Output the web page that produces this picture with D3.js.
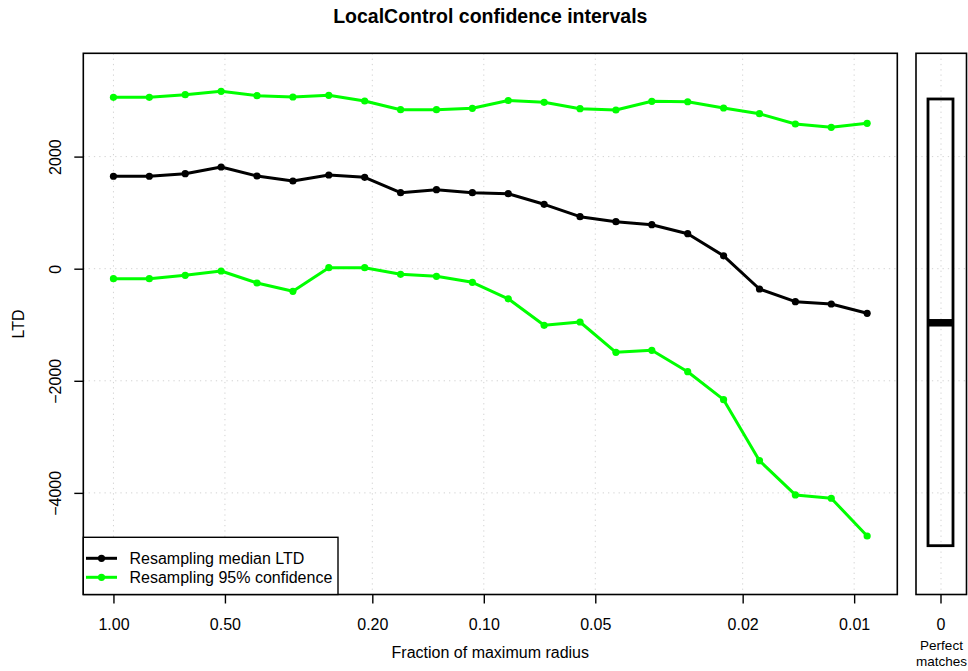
<!DOCTYPE html>
<html>
<head>
<meta charset="utf-8">
<script src="https://cdn.jsdelivr.net/npm/d3@7/dist/d3.min.js"></script>
<style>
  html, body { margin: 0; padding: 0; background: #fff; }
  svg { display: block; }
  text { font-family: "Liberation Sans", Arial, Helvetica, sans-serif; fill: #000; }
</style>
</head>
<body>
<svg id="chart" width="968" height="671"></svg>
<script>
// ---- Data ----
const stepIndex = d3.range(22);                       // radius step i, fraction = 0.8^i
const fractions = stepIndex.map(i => Math.pow(0.8, i));
const medianLTD = [1649, 1649, 1695, 1814, 1654, 1565, 1672, 1631, 1356, 1409, 1356,
                   1338, 1149, 928, 839, 785, 624, 230, -362, -589, -630, -796];
const upperCI   = [3058, 3058, 3104, 3165, 3087, 3063, 3094, 2992, 2837, 2837, 2862,
                   3001, 2969, 2855, 2831, 2987, 2979, 2867, 2765, 2582, 2523, 2594];
const lowerCI   = [-178, -178, -118, -41, -255, -403, 18, 18, -100, -136, -243,
                   -537, -1010, -951, -1492, -1456, -1838, -2337, -3426, -4037, -4096, -4769];
const xTicks = [1.00, 0.50, 0.20, 0.10, 0.05, 0.02, 0.01];
const xTickLabels = ["1.00", "0.50", "0.20", "0.10", "0.05", "0.02", "0.01"];
const yTicks = [-4000, -2000, 0, 2000];
const perfectBox = { lower: -4942, median: -965, upper: 3028 };
const legendLabels = ["Resampling median LTD", "Resampling 95% confidence"];
const seriesColors = ["#000000", "#00FF00"];

// ---- Layout ----
const svg = d3.select("#chart");
const plot = { left: 83.3, right: 897.3, top: 53.3, bottom: 594.5 };
const side = { left: 916, right: 966.5, center: 941 };
const fontBase = 16;

const pad = 0.04 * Math.log10(1 / fractions[fractions.length - 1]);
const x = d3.scaleLog()
  .domain([Math.pow(10, pad), fractions[fractions.length - 1] / Math.pow(10, pad)])
  .range([plot.left, plot.right]);
const y = d3.scaleLinear()
  .domain([-5813, 3843])
  .range([plot.bottom, plot.top]);

const gridStyle = sel => sel.attr("stroke", "#D3D3D3").attr("stroke-width", 1)
  .attr("stroke-dasharray", "1.3,4").attr("fill", "none");

// ---- Grid (main) ----
const grid = svg.append("g");
grid.selectAll("line.vx").data(xTicks).join("line")
  .attr("x1", d => x(d)).attr("x2", d => x(d))
  .attr("y1", plot.top).attr("y2", plot.bottom).call(gridStyle);
grid.selectAll("line.hy").data(yTicks).join("line")
  .attr("x1", plot.left).attr("x2", plot.right)
  .attr("y1", d => y(d)).attr("y2", d => y(d)).call(gridStyle);

// ---- Grid (side) ----
grid.append("line").attr("x1", side.center).attr("x2", side.center)
  .attr("y1", plot.top).attr("y2", plot.bottom).call(gridStyle);
grid.selectAll("line.sy").data(yTicks).join("line")
  .attr("x1", side.left).attr("x2", side.right)
  .attr("y1", d => y(d)).attr("y2", d => y(d)).call(gridStyle);

// ---- Series ----
const line = d3.line().x(d => x(d[0])).y(d => y(d[1]));
const series = [
  { values: upperCI, color: seriesColors[1] },
  { values: lowerCI, color: seriesColors[1] },
  { values: medianLTD, color: seriesColors[0] }
];
series.forEach(s => {
  const pts = fractions.map((f, i) => [f, s.values[i]]);
  svg.append("path").datum(pts).attr("d", line)
    .attr("fill", "none").attr("stroke", s.color).attr("stroke-width", 3)
    .attr("stroke-linejoin", "round");
  svg.append("g").selectAll("circle").data(pts).join("circle")
    .attr("cx", d => x(d[0])).attr("cy", d => y(d[1])).attr("r", 3.6)
    .attr("fill", s.color);
});

// ---- Frames ----
svg.append("rect").attr("x", plot.left).attr("y", plot.top)
  .attr("width", plot.right - plot.left).attr("height", plot.bottom - plot.top)
  .attr("fill", "none").attr("stroke", "#000").attr("stroke-width", 1.6);
svg.append("rect").attr("x", side.left).attr("y", plot.top)
  .attr("width", side.right - side.left).attr("height", plot.bottom - plot.top)
  .attr("fill", "none").attr("stroke", "#000").attr("stroke-width", 1.6);

// ---- Axes ----
const xAxis = d3.axisBottom(x).tickValues(xTicks)
  .tickFormat((d, i) => xTickLabels[i]).tickSize(9).tickPadding(0);
const gx = svg.append("g").attr("transform", `translate(0,${plot.bottom})`).call(xAxis);
gx.select(".domain").remove();
gx.selectAll(".tick line").attr("stroke", "#000").attr("stroke-width", 1.4);
gx.selectAll(".tick text").attr("font-size", fontBase).attr("dy", null)
  .attr("y", 35.5).attr("fill", "#000").attr("font-family", "Liberation Sans, Arial, sans-serif");

const yAxis = d3.axisLeft(y).tickValues(yTicks)
  .tickFormat(d => d < 0 ? "\u2212" + Math.abs(d) : String(d)).tickSize(9).tickPadding(0);
const gy = svg.append("g").attr("transform", `translate(${plot.left},0)`).call(yAxis);
gy.select(".domain").remove();
gy.selectAll(".tick line").attr("stroke", "#000").attr("stroke-width", 1.4);
gy.selectAll(".tick text").attr("font-size", fontBase)
  .attr("x", null).attr("dy", null)
  .attr("transform", "translate(-22.5,0) rotate(-90)")
  .attr("text-anchor", "middle").attr("fill", "#000")
  .attr("font-family", "Liberation Sans, Arial, sans-serif");

// side x tick
svg.append("line").attr("x1", side.center).attr("x2", side.center)
  .attr("y1", plot.bottom).attr("y2", plot.bottom + 9)
  .attr("stroke", "#000").attr("stroke-width", 1.4);
svg.append("text").attr("x", side.center).attr("y", 630)
  .attr("text-anchor", "middle").attr("font-size", fontBase).text("0");
svg.append("text").attr("x", side.center + 0.5).attr("y", 649.5)
  .attr("text-anchor", "middle").attr("font-size", 13.5).text("Perfect");
svg.append("text").attr("x", side.center + 0.5).attr("y", 666)
  .attr("text-anchor", "middle").attr("font-size", 13.5).text("matches");

// ---- Box plot for perfect matches ----
const bw = 25;
svg.append("rect").attr("x", side.center - bw / 2 - 0.5).attr("y", y(perfectBox.upper))
  .attr("width", bw).attr("height", y(perfectBox.lower) - y(perfectBox.upper))
  .attr("fill", "none").attr("stroke", "#000").attr("stroke-width", 2.8);
svg.append("line").attr("x1", side.center - bw / 2 - 0.5).attr("x2", side.center + bw / 2 - 0.5)
  .attr("y1", y(perfectBox.median)).attr("y2", y(perfectBox.median))
  .attr("stroke", "#000").attr("stroke-width", 7.5);

// ---- Titles ----
svg.append("text").attr("x", (plot.left + plot.right) / 2).attr("y", 23)
  .attr("text-anchor", "middle").attr("font-size", 19.5).attr("font-weight", "bold")
  .text("LocalControl confidence intervals");
svg.append("text").attr("x", (plot.left + plot.right) / 2).attr("y", 657.5)
  .attr("text-anchor", "middle").attr("font-size", fontBase)
  .text("Fraction of maximum radius");
svg.append("text")
  .attr("transform", `translate(24,${(plot.top + plot.bottom) / 2}) rotate(-90)`)
  .attr("text-anchor", "middle").attr("font-size", fontBase).text("LTD");

// ---- Legend ----
const lg = { x: plot.left, y: 537.3, w: 338 - plot.left, h: plot.bottom - 537.3 };
svg.append("rect").attr("x", lg.x).attr("y", lg.y).attr("width", lg.w).attr("height", lg.h)
  .attr("fill", "#fff").attr("stroke", "#000").attr("stroke-width", 1.4);
const rowsY = [558.3, 577.3];
legendLabels.forEach((lab, i) => {
  svg.append("line").attr("x1", 86).attr("x2", 117).attr("y1", rowsY[i]).attr("y2", rowsY[i])
    .attr("stroke", seriesColors[i]).attr("stroke-width", 3);
  svg.append("circle").attr("cx", 101.5).attr("cy", rowsY[i]).attr("r", 3.6)
    .attr("fill", seriesColors[i]);
  svg.append("text").attr("x", 129.5).attr("y", rowsY[i]).attr("dy", "0.35em")
    .attr("font-size", fontBase).text(lab);
});
</script>
</body>
</html>
